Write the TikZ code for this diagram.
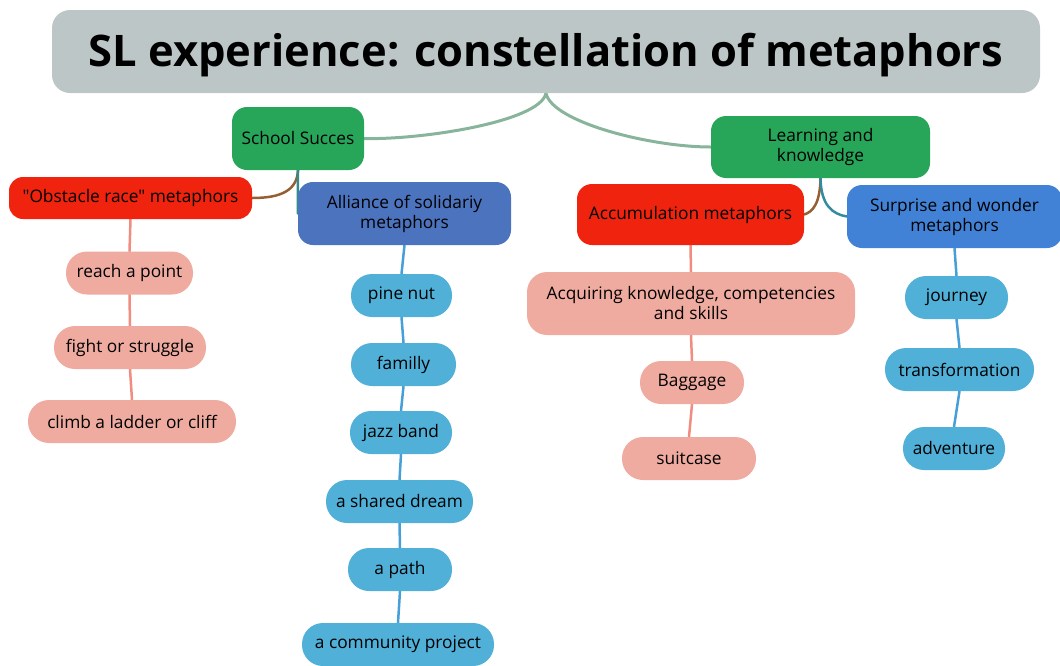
\documentclass[tikz,border=0pt]{standalone}
\usepackage{fontspec}
\setmainfont{Open Sans}[Ligatures=TeXOff]
\usetikzlibrary{positioning,backgrounds}
\definecolor{titlegray}{RGB}{189,198,198}
\definecolor{topicgreen}{RGB}{39,166,90}
\definecolor{metared}{RGB}{240,35,15}
\definecolor{metablue}{RGB}{75,115,190}
\definecolor{wonderblue}{RGB}{66,130,214}
\definecolor{leafpink}{RGB}{240,171,160}
\definecolor{leafblue}{RGB}{80,176,216}
\definecolor{forkgreen}{RGB}{135,180,155}
\definecolor{redlink}{RGB}{240,140,128}
\definecolor{bluelink}{RGB}{70,160,215}
\begin{document}
\begin{tikzpicture}[x=1pt, y=-1pt, font=\fontsize{17.3}{20}\selectfont,
  title/.style={fill=titlegray, rounded corners=18pt, minimum width=988pt, minimum height=83pt, font=\fontsize{43.5}{50}\selectfont\bfseries},
  topic/.style={fill=topicgreen, rounded corners=15pt, align=center, inner sep=2pt},
  meta/.style={rounded corners=15pt, align=center, inner sep=2pt},
  leaf/.style={rounded corners=21pt, minimum height=43pt, align=center, inner sep=2pt},
  redleaf/.style={leaf, fill=leafpink},
  blueleaf/.style={leaf, fill=leafblue},
  link/.style={line width=2.5pt, line cap=round}]
\useasboundingbox (0,0) rectangle (1060,665);
% root and the two topics
\node[title] (ttl) at (546,51.5) {\raisebox{-4pt}[\height][\depth]{SL experience: constellation of metaphors}};
\node[topic, minimum width=132pt, minimum height=63pt] (ss) at (298,138.5) {School Succes};
\node[topic, minimum width=219pt, minimum height=62pt] (lk) at (820.5,147) {Learning and\\knowledge};
% metaphor families
\node[meta, fill=metared, minimum width=243pt, minimum height=42pt, rounded corners=14pt] (obs) at (130.5,198) {"Obstacle race" metaphors};
\node[meta, fill=metablue, minimum width=213pt, minimum height=63pt] (al) at (404.5,213.5) {Alliance of solidariy\\metaphors};
\node[meta, fill=metared, minimum width=227pt, minimum height=61pt] (acc) at (690.5,214.5) {Accumulation metaphors};
\node[meta, fill=wonderblue, minimum width=215pt, minimum height=63pt] (sw) at (954.5,216.5) {Surprise and wonder\\metaphors};
% obstacle race
\node[redleaf, minimum width=127pt] (rp) at (129.5,273) {reach a point};
\node[redleaf, minimum width=152pt] (fs) at (130,347.5) {fight or struggle};
\node[redleaf, minimum width=208pt] (cl) at (132,421.5) {climb a ladder or cliff};
% alliance of solidarity
\node[blueleaf, minimum width=101pt] (pn) at (401.5,295.5) {pine nut};
\node[blueleaf, minimum width=105pt] (fa) at (403.5,364.5) {familly};
\node[blueleaf, minimum width=102pt] (jb) at (401,432.5) {jazz band};
\node[blueleaf, minimum width=147pt] (sd) at (399.5,501.5) {a shared dream};
\node[blueleaf, minimum width=104pt] (pa) at (400,569.5) {a path};
\node[blueleaf, minimum width=192pt] (cp) at (398,644.5) {a community project};
% accumulation
\node[redleaf, minimum width=328pt, minimum height=63pt, rounded corners=20pt] (ak) at (691,303.5) {Acquiring knowledge, competencies\\and skills};
\node[redleaf, minimum width=104pt] (bg) at (692,382.5) {Baggage};
\node[redleaf, minimum width=134pt] (sc) at (689,458.5) {suitcase};
% surprise and wonder
\node[blueleaf, minimum width=103pt] (jo) at (956.5,297.5) {journey};
\node[blueleaf, minimum width=149pt] (tr) at (959.5,369.5) {transformation};
\node[blueleaf, minimum width=102pt] (ad) at (954,448.5) {adventure};
% connectors, behind the boxes
\begin{scope}[on background layer]
\draw[link, forkgreen, line width=3pt] (ttl.south) .. controls (540,122) and (420,140) .. (ss.east);
\draw[link, forkgreen, line width=3pt] (ttl.south) .. controls (552,122) and (650,147) .. (lk.west);
\draw[link, color={rgb,255:red,150;green,95;blue,50}] (ss.south) .. controls (297,190) and (282,198) .. (obs.east);
\draw[link, color={rgb,255:red,50;green,140;blue,140}] (ss.south) -- (al.west);
\draw[link, color={rgb,255:red,150;green,95;blue,50}] (lk.south) .. controls (820,205) and (812,212) .. (acc.east);
\draw[link, color={rgb,255:red,50;green,140;blue,160}] (lk.south) .. controls (821,205) and (832,214) .. (sw.west);
\foreach \a/\b in {obs/rp, rp/fs, fs/cl, acc/ak, ak/bg, bg/sc}
  \draw[link, redlink] (\a.south) -- (\b.north);
\foreach \a/\b in {al/pn, pn/fa, fa/jb, jb/sd, sd/pa, pa/cp, sw/jo, jo/tr, tr/ad}
  \draw[link, bluelink] (\a.south) -- (\b.north);
\end{scope}
\end{tikzpicture}
\end{document}
